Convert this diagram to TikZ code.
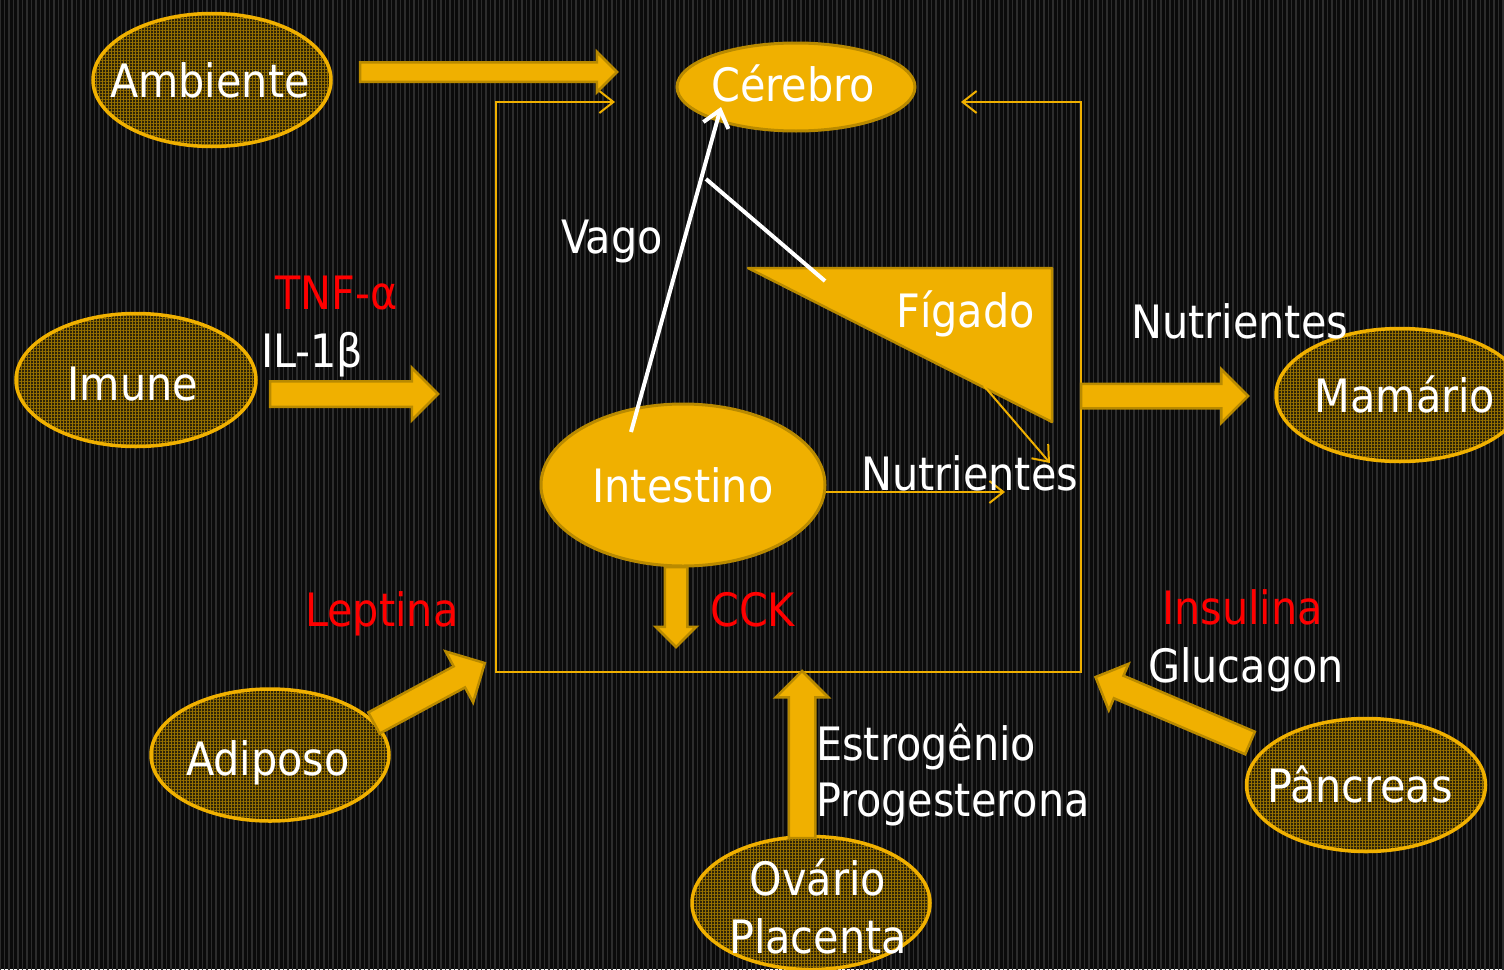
\documentclass[tikz,border=0pt]{standalone}
\usepackage{fontspec}
\setmainfont{DejaVu Sans Condensed}
\usetikzlibrary{shapes.geometric,shapes.arrows,arrows.meta,patterns.meta,calc}
\definecolor{gold}{RGB}{240,176,0}
\definecolor{golddk}{RGB}{185,138,0}
\definecolor{bgbase}{RGB}{10,10,10}
\definecolor{bgstripe}{RGB}{44,44,44}
\definecolor{olivebg}{RGB}{45,35,8}
\definecolor{olivept}{RGB}{150,112,0}
\definecolor{redtx}{RGB}{255,0,0}
\begin{document}
\begin{tikzpicture}[x=1pt,y=-1pt,
  barb/.tip={Straight Barb[length=14pt,width=22pt]},
  txt/.style={text=white, font=\fontsize{46}{58}\selectfont, inner sep=0pt},
  redtxt/.style={txt, text=redtx},
  organ/.style={ellipse, draw=gold, line width=3.5pt, preaction={fill=olivebg},
    pattern={Hatch[angle=0,distance=3pt,line width=0.7pt]}, pattern color=olivept, inner sep=0pt},
  core/.style={ellipse, draw=golddk, line width=3pt, fill=gold, inner sep=0pt},
  thin/.style={draw=gold, line width=2pt, -barb},
  vago/.style={draw=white, line width=4pt},
  blockarrow/.style={single arrow, draw=golddk, fill=gold, line width=2.5pt, inner xsep=0pt,
    outer sep=0pt, minimum width=0pt, single arrow head indent=0pt, anchor=tail},
  barrow/.style n args={3}{blockarrow, inner ysep=#1, single arrow head extend=#2, minimum height=#3}
]
\useasboundingbox (0,0) rectangle (1504,969);
\fill[bgbase] (0,0) rectangle (1504,969);
\fill[pattern={Lines[angle=90,distance=4.5pt,line width=1.6pt]}, pattern color=bgstripe] (0,0) rectangle (1504,969);

% organs
\node[organ, minimum width=238pt, minimum height=133pt] (amb) at (212,80) {};
\node[organ, minimum width=240pt, minimum height=133pt] (imu) at (136,380) {};
\node[organ, minimum width=248pt, minimum height=133pt] (mam) at (1400,395) {};
\node[organ, minimum width=238pt, minimum height=132pt] (adi) at (270,755) {};
\node[organ, minimum width=238pt, minimum height=133pt] (ova) at (811,903) {};
\node[organ, minimum width=239pt, minimum height=133pt] (pan) at (1366,785) {};
\node[txt, anchor=base] (tamb) at (210,97) {Ambiente};
\node[txt, anchor=base] (timu) at (133,400) {Imune};
\node[txt, anchor=base] (tmam) at (1405,412) {Mamário};
\node[txt, anchor=base] (tadi) at (268,775) {Adiposo};
\node[txt, anchor=base] (tova) at (818,895) {Ovário};
\node[txt, anchor=base] (tpla) at (818,953) {Placenta};
\node[txt, anchor=base] (tpan) at (1360,802) {Pâncreas};

% central organs
\node[core, minimum width=238pt, minimum height=88pt] (cer) at (796,87) {};
\node[core, minimum width=284pt, minimum height=162pt] (int) at (683,485) {};
\node[txt, anchor=base] (tcer) at (793,101) {Cérebro};
\node[txt, anchor=base] (tint) at (683,502) {Intestino};

% liver triangle
\coordinate (f1) at (748,268);
\coordinate (f2) at (1052,268);
\coordinate (f3) at (1052,422);
\draw[draw=golddk, fill=gold, line width=2.5pt, line join=round] (f1) -- (f2) -- (f3) -- cycle;
\node[txt, anchor=base west] (fig) at (896,327) {Fígado};

% box
\coordinate (bl) at (615,102);
\coordinate (b1) at (496,102);
\coordinate (b2) at (496,672);
\coordinate (b3) at (1081,672);
\coordinate (b4) at (1081,102);
\coordinate (br) at (961,102);
\draw[draw=gold, line width=2pt, barb-barb] (bl) -- (b1) -- (b2) -- (b3) -- (b4) -- (br);

% block arrows
\node[barrow={8.5pt}{10.5pt}{257pt}] (aamb) at (360,72) {};
\node[barrow={11.5pt}{13.5pt}{168pt}] (aimu) at (270,394) {};
\node[barrow={11pt}{14.5pt}{167pt}] (amam) at (1081,396) {};
\node[barrow={10pt}{9pt}{80pt}, rotate=-90] (acck) at (676,567) {};
\node[barrow={12pt}{13pt}{167pt}, rotate=90] (aova) at (802,838) {};
\node[barrow={10.75pt}{17pt}{126pt}, rotate=28.4] (aadi) at (374,723) {};
\node[barrow={11pt}{13pt}{168pt}, rotate=156.9] (apan) at (1250,743) {};

% vagus
\coordinate (vs) at (631,432);
\coordinate (vt) at (721,107);
\draw[vago, -{Straight Barb[length=16pt,width=26pt]}] (vs) -- (vt);
\coordinate (vm) at (706,179);
\coordinate (vf) at (825,281);
\draw[vago] (vm) -- (vf);

% nutrient arrows
\coordinate (n1s) at (984,386);
\coordinate (n1t) at (1050,463);
\draw[thin] (n1s) -- (n1t);
\coordinate (n2s) at (826,492);
\coordinate (n2t) at (1005,492);
\draw[thin] (n2s) -- (n2t);

% labels
\node[txt, anchor=base west] (lvago) at (561,253) {Vago};
\node[redtxt, anchor=base west] (ltnf) at (275,309) {TNF-α};
\node[txt, anchor=base west] (lil) at (261,367) {IL-1β};
\node[txt, anchor=base west] (lnut1) at (1131,338) {Nutrientes};
\node[txt, anchor=base west] (lnut2) at (861,490) {Nutrientes};
\node[redtxt, anchor=base west] (llep) at (305,626) {Leptina};
\node[redtxt, anchor=base west] (lcck) at (710,626) {CCK};
\node[redtxt, anchor=base west] (lins) at (1162,624) {Insulina};
\node[txt, anchor=base west] (lglu) at (1148,682) {Glucagon};
\node[txt, anchor=base west] (lest) at (816,760) {Estrogênio};
\node[txt, anchor=base west] (lpro) at (816,816) {Progesterona};
\end{tikzpicture}
\end{document}
